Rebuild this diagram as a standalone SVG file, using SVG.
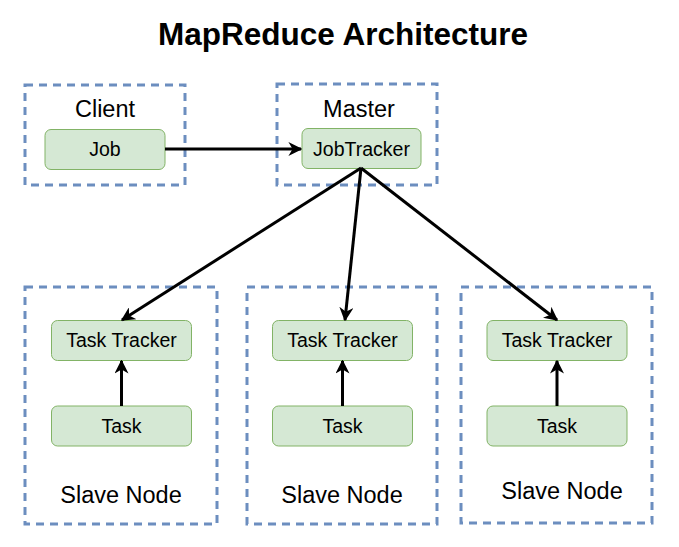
<svg xmlns="http://www.w3.org/2000/svg" width="679" height="547" viewBox="0 0 679 547">
<defs>
<style>
.grp{fill:none;stroke:#6c8ebf;stroke-width:3;stroke-dasharray:8 6}
.nd{fill:#d5e8d4;stroke:#82b366;stroke-width:1}
.t{font-family:"Liberation Sans",Arial,sans-serif;fill:#000;text-anchor:middle}
.lbl{font-size:23.5px}
.nt{font-size:19.5px}
.edge{stroke:#000;stroke-width:3;fill:none}
</style>
<marker id="ah2" viewBox="0 0 10 10" refX="9" refY="5" markerWidth="14" markerHeight="14" orient="auto" markerUnits="userSpaceOnUse">
<path d="M0,0 L10,5 L0,10 L3,5 Z" fill="#000"/>
</marker>
</defs>
<rect width="679" height="547" fill="#fff"/>
<text class="t" x="343" y="45" font-size="31.5" font-weight="bold">MapReduce Architecture</text>

<g id="client">
<rect class="grp" x="25" y="85" width="160" height="100"/>
<text class="t lbl" x="105" y="117">Client</text>
</g>
<g id="job">
<rect class="nd" x="45" y="129.5" width="120" height="40" rx="6"/>
<text class="t nt" x="105" y="156">Job</text>
</g>
<g id="master">
<rect class="grp" x="277" y="84" width="160" height="101"/>
<text class="t lbl" x="359" y="117">Master</text>
</g>
<g id="jobtracker">
<rect class="nd" x="302" y="128.5" width="119" height="40" rx="6"/>
<text class="t nt" x="361.5" y="156">JobTracker</text>
</g>

<g id="slave1">
<rect class="grp" x="25" y="287" width="192" height="237"/>
<text class="t lbl" x="121" y="503">Slave Node</text>
</g>
<g id="tasktracker1">
<rect class="nd" x="51.5" y="320.5" width="140" height="40" rx="6"/>
<text class="t nt" x="121.5" y="347">Task Tracker</text>
</g>
<g id="task1">
<rect class="nd" x="51.5" y="406" width="140" height="40" rx="6"/>
<text class="t nt" x="121.5" y="433">Task</text>
</g>

<g id="slave2">
<rect class="grp" x="247" y="287" width="190" height="237"/>
<text class="t lbl" x="342" y="503">Slave Node</text>
</g>
<g id="tasktracker2">
<rect class="nd" x="272.5" y="320.5" width="140" height="40" rx="6"/>
<text class="t nt" x="342.5" y="347">Task Tracker</text>
</g>
<g id="task2">
<rect class="nd" x="272.5" y="406" width="140" height="40" rx="6"/>
<text class="t nt" x="342.5" y="433">Task</text>
</g>

<g id="slave3">
<rect class="grp" x="461" y="287" width="191" height="236"/>
<text class="t lbl" x="562" y="499">Slave Node</text>
</g>
<g id="tasktracker3">
<rect class="nd" x="487" y="320.5" width="140" height="40" rx="6"/>
<text class="t nt" x="557" y="347">Task Tracker</text>
</g>
<g id="task3">
<rect class="nd" x="487" y="406" width="140" height="40" rx="6"/>
<text class="t nt" x="557" y="433">Task</text>
</g>

<g id="connectors">
<line class="edge" x1="165" y1="149" x2="301" y2="149" marker-end="url(#ah2)"/>
<line class="edge" x1="361" y1="168" x2="122" y2="320" marker-end="url(#ah2)"/>
<line class="edge" x1="361" y1="168" x2="345" y2="320" marker-end="url(#ah2)"/>
<line class="edge" x1="361" y1="168" x2="557" y2="320" marker-end="url(#ah2)"/>
<line class="edge" x1="121.5" y1="406" x2="121.5" y2="361" marker-end="url(#ah2)"/>
<line class="edge" x1="342.5" y1="406" x2="342.5" y2="361" marker-end="url(#ah2)"/>
<line class="edge" x1="557" y1="406" x2="557" y2="361" marker-end="url(#ah2)"/>
</g>
</svg>
